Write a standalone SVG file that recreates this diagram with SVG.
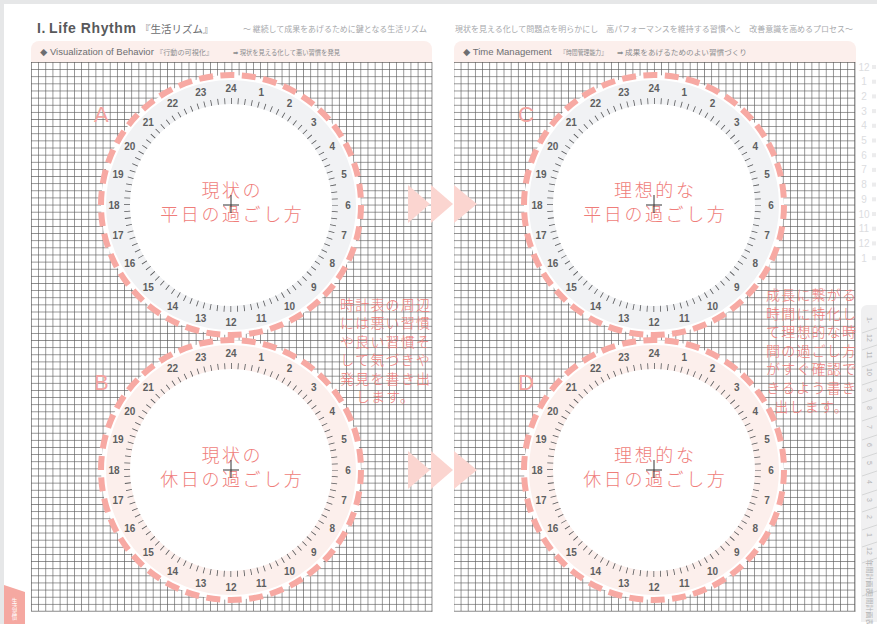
<svg xmlns="http://www.w3.org/2000/svg" xmlns:xlink="http://www.w3.org/1999/xlink" width="877" height="624" viewBox="0 0 877 624">
<style>
.ttl{font-family:"Liberation Sans",Arial,sans-serif;font-weight:bold;font-size:14px;fill:#58595b;letter-spacing:0.6px}
.jp{font-family:"Noto Sans CJK JP","Noto Sans",sans-serif}
.sub{font-size:8px;fill:#a7a9ac}
.sh{font-family:"Liberation Sans","DejaVu Sans",sans-serif;font-size:9.5px;fill:#6d6e71}
.shj{font-family:"Noto Sans CJK JP",sans-serif;font-size:6.5px;fill:#8a8c8e}
.num{font-family:"Liberation Sans",Arial,sans-serif;font-weight:bold;font-size:10px;fill:#5e5f61;text-anchor:middle;dominant-baseline:central}
.dash{fill:none;stroke:#f7a9a3;stroke-width:6;stroke-dasharray:14 7.49}
.lbl{font-family:"Liberation Sans",Arial,sans-serif;font-size:22px;fill:#f4a3a0}
.ctr{font-family:"Noto Sans CJK JP",sans-serif;font-weight:300;font-size:18px;fill:#ef7d7a;text-anchor:middle;letter-spacing:2.6px}
.ann{font-family:"Noto Sans CJK JP",sans-serif;font-weight:300;font-size:14px;fill:#ef7d7a;text-anchor:middle;letter-spacing:1.2px}
.cross{stroke:#333;stroke-width:1;fill:none}
.tri{fill:#fbd5d0}
.tabn{font-family:"Liberation Sans",Arial,sans-serif;font-size:10px;fill:#dcdddf;text-anchor:middle}
.tabs{fill:#ececed}
.rt{font-family:"Liberation Sans","Noto Sans CJK JP",sans-serif;font-size:7px;fill:#b3b4b6;text-anchor:middle;dominant-baseline:central}
</style>
<defs>
<pattern id="grid" width="7.16" height="7.13" patternUnits="userSpaceOnUse" x="31" y="62">
<path d="M0 0.35H7.16M0.35 0V7.13" stroke="#5a5a5a" stroke-width="0.7" fill="none"/>
</pattern>
<g id="dial">
<circle r="104" fill="none" stroke="#58595b" stroke-width="6" stroke-dasharray="0.8 6.0068" stroke-dashoffset="0.4"/>
<text class="num" x="0" y="-117">24</text>
<text class="num" x="30.3" y="-113">1</text>
<text class="num" x="58.5" y="-101.3">2</text>
<text class="num" x="82.7" y="-82.7">3</text>
<text class="num" x="101.3" y="-58.5">4</text>
<text class="num" x="113" y="-30.3">5</text>
<text class="num" x="117" y="0">6</text>
<text class="num" x="113" y="30.3">7</text>
<text class="num" x="101.3" y="58.5">8</text>
<text class="num" x="82.7" y="82.7">9</text>
<text class="num" x="58.5" y="101.3">10</text>
<text class="num" x="30.3" y="113">11</text>
<text class="num" x="0" y="117">12</text>
<text class="num" x="-30.3" y="113">13</text>
<text class="num" x="-58.5" y="101.3">14</text>
<text class="num" x="-82.7" y="82.7">15</text>
<text class="num" x="-101.3" y="58.5">16</text>
<text class="num" x="-113" y="30.3">17</text>
<text class="num" x="-117" y="0">18</text>
<text class="num" x="-113" y="-30.3">19</text>
<text class="num" x="-101.3" y="-58.5">20</text>
<text class="num" x="-82.7" y="-82.7">21</text>
<text class="num" x="-58.5" y="-101.3">22</text>
<text class="num" x="-30.3" y="-113">23</text>
</g>
</defs>

<!-- page -->
<rect x="0" y="0" width="877" height="624" fill="#e6e7e8"/>
<rect x="4" y="4" width="873" height="620" fill="#ffffff"/>

<!-- header -->
<g id="header">
<text class="ttl" x="37" y="33">I.<tspan dx="3">Life Rhythm</tspan></text>
<text class="jp" x="140" y="33" font-size="10.5" fill="#6d6e71">『生活リズム』</text>
<text class="jp sub" x="243" y="32" textLength="184" lengthAdjust="spacingAndGlyphs">〜 継続して成果をあげるために鍵となる生活リズム</text>
<text class="jp sub" x="455" y="32" textLength="398" lengthAdjust="spacingAndGlyphs">現状を見える化して問題点を明らかにし　高パフォーマンスを維持する習慣へと　改善意識を高めるプロセス〜</text>
</g>

<!-- left panel -->
<g id="panelLeft">
<path d="M31 63V49a8 8 0 0 1 8-8H424a8 8 0 0 1 8 8V63Z" fill="#fcefec"/>
<text class="sh" x="40" y="55">◆ Visualization of Behavior</text>
<text class="shj" x="156" y="55" textLength="57" lengthAdjust="spacingAndGlyphs">『行動の可視化』</text>
<text class="shj" x="233" y="55" textLength="107" lengthAdjust="spacingAndGlyphs"><tspan font-family="DejaVu Sans">➡</tspan> 現状を見える化して悪い習慣を発見</text>
<rect x="31" y="62" width="401" height="549" fill="url(#grid)"/>
<path d="M431.96 62V611.6M31 611.26H432.3" stroke="#5a5a5a" stroke-width="0.7"/>
</g>

<!-- right panel -->
<g id="panelRight">
<path d="M454 63V49a8 8 0 0 1 8-8H848a8 8 0 0 1 8 8V63Z" fill="#fcefec"/>
<text class="sh" x="463" y="55">◆ Time Management</text>
<text class="shj" x="560" y="55" textLength="47" lengthAdjust="spacingAndGlyphs">『時間管理能力』</text>
<text class="shj" x="617" y="55" textLength="130" lengthAdjust="spacingAndGlyphs"><tspan font-family="DejaVu Sans">➡</tspan> 成果をあげるためのよい習慣づくり</text>
<rect x="454" y="62" width="401" height="549" fill="url(#grid)"/>
<path d="M854.96 62V611.6M454 611.26H855.3" stroke="#5a5a5a" stroke-width="0.7"/>
</g>

<!-- clocks -->
<g id="clockA">
<circle cx="231" cy="205" r="130" fill="#fff"/>
<circle cx="231" cy="205" r="113" fill="none" stroke="#f1f2f4" stroke-width="24"/>
<use xlink:href="#dial" href="#dial" x="231" y="205"/>
<circle cx="231" cy="205" r="130" class="dash"/>
<text class="lbl" x="94" y="122">A</text>
<text class="ctr" x="232.3" y="197">現状の</text>
<text class="ctr" x="232.3" y="221">平日の過ごし方</text>
<path class="cross" d="M223 205H239M231 195V213"/>
</g>
<g id="clockB">
<circle cx="231" cy="470" r="130" fill="#fff"/>
<circle cx="231" cy="470" r="113" fill="none" stroke="#fcefec" stroke-width="24"/>
<use xlink:href="#dial" href="#dial" x="231" y="470"/>
<circle cx="231" cy="470" r="130" class="dash"/>
<text class="lbl" x="94" y="390">B</text>
<text class="ctr" x="232.3" y="462">現状の</text>
<text class="ctr" x="232.3" y="486">休日の過ごし方</text>
<path class="cross" d="M223 470H239M231 460V478"/>
</g>
<g id="clockC">
<circle cx="654" cy="205" r="130" fill="#fff"/>
<circle cx="654" cy="205" r="113" fill="none" stroke="#f1f2f4" stroke-width="24"/>
<use xlink:href="#dial" href="#dial" x="654" y="205"/>
<circle cx="654" cy="205" r="130" class="dash"/>
<text class="lbl" x="518" y="122">C</text>
<text class="ctr" x="655.3" y="197">理想的な</text>
<text class="ctr" x="655.3" y="221">平日の過ごし方</text>
<path class="cross" d="M646 205H662M654 195V213"/>
</g>
<g id="clockD">
<circle cx="654" cy="470" r="130" fill="#fff"/>
<circle cx="654" cy="470" r="113" fill="none" stroke="#fcefec" stroke-width="24"/>
<use xlink:href="#dial" href="#dial" x="654" y="470"/>
<circle cx="654" cy="470" r="130" class="dash"/>
<text class="lbl" x="518" y="390">D</text>
<text class="ctr" x="655.3" y="462">理想的な</text>
<text class="ctr" x="655.3" y="486">休日の過ごし方</text>
<path class="cross" d="M646 470H662M654 460V478"/>
</g>

<!-- annotations -->
<g id="noteLeft">
<text class="ann" x="385.6" y="310">時計表の周辺</text>
<text class="ann" x="385.6" y="328.4">には悪い習慣</text>
<text class="ann" x="385.6" y="346.8">や良い習慣そ</text>
<text class="ann" x="385.6" y="365.2">して気づきや</text>
<text class="ann" x="385.6" y="383.6">発見を書き出</text>
<text class="ann" x="385.6" y="402">します。</text>
</g>
<g id="noteRight">
<text class="ann" x="811.6" y="300">成長に繋がる</text>
<text class="ann" x="811.6" y="318.6">時間に特化し</text>
<text class="ann" x="811.6" y="337.2">て理想的な時</text>
<text class="ann" x="811.6" y="355.8">間の過ごし方</text>
<text class="ann" x="811.6" y="374.4">がすぐ確認で</text>
<text class="ann" x="811.6" y="393">きるよう書き</text>
<text class="ann" x="811.6" y="411.6">出します。</text>
</g>

<!-- connectors (arrows) -->
<g id="connectors">
<path class="tri" d="M408 185L430 204L408 223Z"/>
<path class="tri" d="M431 185L453 204L431 223Z"/>
<path class="tri" d="M454 185L477 204L454 223Z"/>
<path class="tri" d="M408 451L430 470L408 489Z"/>
<path class="tri" d="M431 451L453 470L431 489Z"/>
<path class="tri" d="M454 451L477 470L454 489Z"/>
</g>

<!-- right side month index -->
<g id="monthIndex">
<text class="tabn" x="864" y="70.5">12</text><rect class="tabs" x="872" y="65" width="4" height="4"/>
<text class="tabn" x="864" y="85.2">1</text><rect class="tabs" x="872" y="79.7" width="4" height="4"/>
<text class="tabn" x="864" y="99.9">2</text><rect class="tabs" x="872" y="94.4" width="4" height="4"/>
<text class="tabn" x="864" y="114.6">3</text><rect class="tabs" x="872" y="109.1" width="4" height="4"/>
<text class="tabn" x="864" y="129.3">4</text><rect class="tabs" x="872" y="123.8" width="4" height="4"/>
<text class="tabn" x="864" y="144">5</text><rect class="tabs" x="872" y="138.5" width="4" height="4"/>
<text class="tabn" x="864" y="158.7">6</text><rect class="tabs" x="872" y="153.2" width="4" height="4"/>
<text class="tabn" x="864" y="173.4">7</text><rect class="tabs" x="872" y="167.9" width="4" height="4"/>
<text class="tabn" x="864" y="188.1">8</text><rect class="tabs" x="872" y="182.6" width="4" height="4"/>
<text class="tabn" x="864" y="202.8">9</text><rect class="tabs" x="872" y="197.3" width="4" height="4"/>
<text class="tabn" x="864" y="217.5">10</text><rect class="tabs" x="872" y="212" width="4" height="4"/>
<text class="tabn" x="864" y="232.2">11</text><rect class="tabs" x="872" y="226.7" width="4" height="4"/>
<text class="tabn" x="864" y="246.9">12</text><rect class="tabs" x="872" y="241.4" width="4" height="4"/>
<text class="tabn" x="864" y="261.6">1</text><rect class="tabs" x="872" y="256.1" width="4" height="4"/>
</g>

<!-- right side tabs -->
<g id="sideTabs">
<path d="M861 622V311a6 6 0 0 1 6-6H877V622Z" fill="#f0f0f1"/>
<path d="M862 333L877 328M862 350L877 345M862 367L877 362M862 385L877 380M862 403L877 398M862 421L877 416M862 440L877 435M862 458L877 453M862 476L877 471M862 495L877 490M862 512L877 507M862 530L877 525M862 547L877 542M862 563L877 558M862 596L877 591" stroke="#c9cacc" stroke-width="0.7" fill="none"/>
<text class="rt" transform="translate(869,320) rotate(90)">1-</text>
<text class="rt" transform="translate(869,338) rotate(90)">12</text>
<text class="rt" transform="translate(869,355) rotate(90)">11</text>
<text class="rt" transform="translate(869,372) rotate(90)">10</text>
<text class="rt" transform="translate(869,390) rotate(90)">9</text>
<text class="rt" transform="translate(869,408) rotate(90)">8</text>
<text class="rt" transform="translate(869,427) rotate(90)">7</text>
<text class="rt" transform="translate(869,445) rotate(90)">6</text>
<text class="rt" transform="translate(869,463) rotate(90)">5</text>
<text class="rt" transform="translate(869,482) rotate(90)">4</text>
<text class="rt" transform="translate(869,500) rotate(90)">3</text>
<text class="rt" transform="translate(869,517) rotate(90)">2</text>
<text class="rt" transform="translate(869,535) rotate(90)">1</text>
<text class="rt" transform="translate(869,551) rotate(90)">12</text>
<text class="rt" font-size="5.5" transform="translate(869,577) rotate(90)">年間計画表</text>
<text class="rt" font-size="5.5" transform="translate(869,608) rotate(90)">月間計画表</text>
</g>

<!-- bottom-left tab -->
<g id="chapterTab">
<path d="M4 585L25 592V624H4Z" fill="#f5a8a1"/>
<text class="jp" font-size="5.5" fill="#fff" x="14.5" y="598" style="writing-mode:vertical-rl">生活習慣</text>
</g>
</svg>
